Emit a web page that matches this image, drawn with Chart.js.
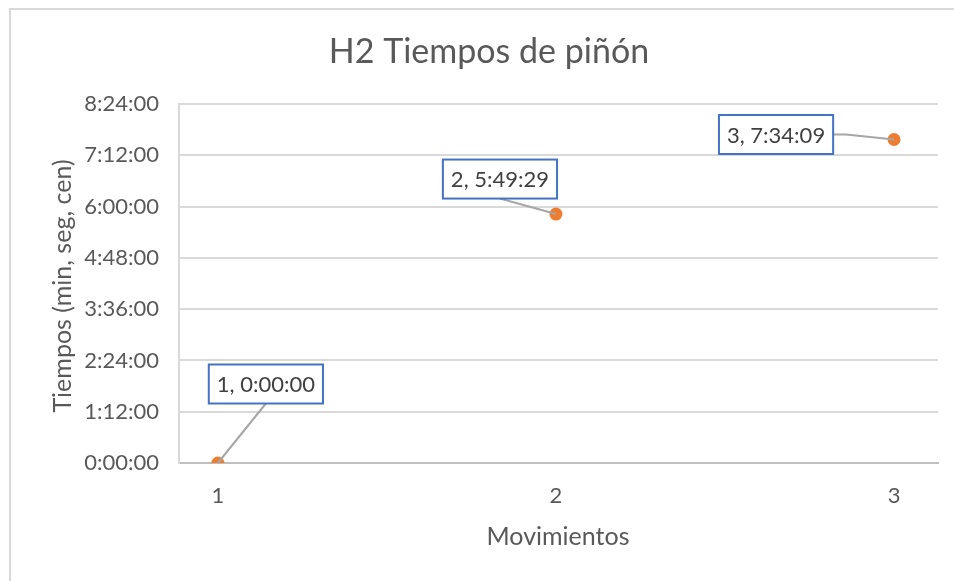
<!DOCTYPE html>
<html>
<head>
<meta charset="utf-8">
<script src="https://cdn.jsdelivr.net/npm/chart.js@4/dist/chart.umd.min.js"></script>
<style>
  html, body { margin: 0; padding: 0; background: #fff; }
  #wrap { width: 954px; height: 581px; }
</style>
</head>
<body>
<div id="wrap"><canvas id="piñonChart" width="954" height="581"></canvas></div>
<script>
// Datos del gráfico (tiempos en segundos, formato h:mm:ss como en Excel)
const movimientos = [1, 2, 3];
const tiempos = [0, 5 * 3600 + 49 * 60 + 29, 7 * 3600 + 34 * 60 + 9];
const xTicks = [1, 2, 3];
const yTicks = [0, 4320, 8640, 12960, 17280, 21600, 25920, 30240];

const FONT = 'Lato, "Open Sans", sans-serif';
const GRIS = '#595959';

function fmtTiempo(s) {
    const h = Math.floor(s / 3600);
    const m = Math.floor((s % 3600) / 60);
    const sec = Math.round(s % 60);
    return h + ':' + String(m).padStart(2, '0') + ':' + String(sec).padStart(2, '0');
}

// Posición de cada etiqueta respecto a su punto (solo estilo)
const etiquetas = [
    { dx: 48, dy: -79, ancla: 'bottom' },
    { dx: -56, dy: -35, ancla: 'bottom' },
    { dx: -118, dy: -5, ancla: 'right' }
];

const fondoYMarco = {
    id: 'fondoYMarco',
    beforeDraw(chart) {
        const ctx = chart.ctx;
        ctx.save();
        ctx.fillStyle = '#fff';
        ctx.fillRect(0, 0, chart.width, chart.height);
        ctx.strokeStyle = '#D9D9D9';
        ctx.lineWidth = 2;
        ctx.strokeRect(10, 9, chart.width + 20, chart.height + 20);
        ctx.restore();
    }
};

const titulos = {
    id: 'titulos',
    afterDraw(chart) {
        const ctx = chart.ctx;
        ctx.save();
        ctx.fillStyle = GRIS;
        ctx.textAlign = 'center';
        ctx.textBaseline = 'middle';
        ctx.font = '34px ' + FONT;
        ctx.fillText('H2 Tiempos de piñón', 489, 52);
        ctx.font = '25px ' + FONT;
        ctx.fillText('Movimientos', 558, 537);
        ctx.translate(63, 286);
        ctx.rotate(-Math.PI / 2);
        ctx.fillText('Tiempos (min, seg, cen)', 0, 0);
        ctx.restore();
    }
};

const etiquetasDatos = {
    id: 'etiquetasDatos',
    afterDatasetsDraw(chart) {
        const ctx = chart.ctx;
        const meta = chart.getDatasetMeta(0);
        ctx.save();
        ctx.font = '22px ' + FONT;
        meta.data.forEach((pt, i) => {
            const cfg = etiquetas[i];
            const texto = movimientos[i] + ', ' + fmtTiempo(tiempos[i]);
            const w = ctx.measureText(texto).width + 16;
            const h = 39;
            const cx = pt.x + cfg.dx, cy = pt.y + cfg.dy;
            const x0 = cx - w / 2, y0 = cy - h / 2;

            // línea guía
            ctx.strokeStyle = '#A6A6A6';
            ctx.lineWidth = 2;
            ctx.beginPath();
            if (cfg.ancla === 'bottom') {
                ctx.moveTo(cx, y0 + h);
            } else {
                ctx.moveTo(x0 + w, cy);
                ctx.lineTo(x0 + w + 13, cy);
            }
            ctx.lineTo(pt.x, pt.y);
            ctx.stroke();

            // caja
            ctx.fillStyle = '#fff';
            ctx.fillRect(x0, y0, w, h);
            ctx.strokeStyle = '#4472C4';
            ctx.lineWidth = 2;
            ctx.strokeRect(x0, y0, w, h);

            ctx.fillStyle = '#404040';
            ctx.textAlign = 'center';
            ctx.textBaseline = 'middle';
            ctx.fillText(texto, cx, cy + 1);
        });
        ctx.restore();
    }
};

new Chart(document.getElementById('piñonChart'), {
    type: 'scatter',
    data: {
        datasets: [{
            label: 'H2',
            data: movimientos.map((m, i) => ({ x: m, y: tiempos[i] })),
            backgroundColor: '#ED7D31',
            borderWidth: 0,
            pointRadius: 6.5,
            pointHoverRadius: 6.5
        }]
    },
    options: {
        responsive: false,
        animation: false,
        layout: { padding: { left: 0, top: 104, right: 16, bottom: 0 } },
        plugins: {
            legend: { display: false },
            tooltip: { enabled: false }
        },
        scales: {
            x: {
                type: 'linear',
                min: 0.885,
                max: 3.13,
                afterBuildTicks: s => { s.ticks = xTicks.map(v => ({ value: v })); },
                afterFit: s => { s.height = 118; },
                grid: { display: false, drawTicks: false },
                border: { display: true, color: '#BFBFBF', width: 2 },
                ticks: {
                    padding: 20,
                    color: GRIS,
                    font: { family: FONT, size: 22 },
                    maxRotation: 0
                }
            },
            y: {
                min: 0,
                max: 30240,
                afterBuildTicks: s => { s.ticks = yTicks.map(v => ({ value: v })); },
                afterFit: s => { s.width = 179; },
                grid: { color: '#D9D9D9', lineWidth: 2, drawTicks: false },
                border: { display: true, color: '#D9D9D9', width: 2 },
                ticks: {
                    padding: 20,
                    color: GRIS,
                    font: { family: FONT, size: 22 },
                    callback: v => fmtTiempo(v)
                }
            }
        }
    },
    plugins: [fondoYMarco, titulos, etiquetasDatos]
});
</script>
</body>
</html>
